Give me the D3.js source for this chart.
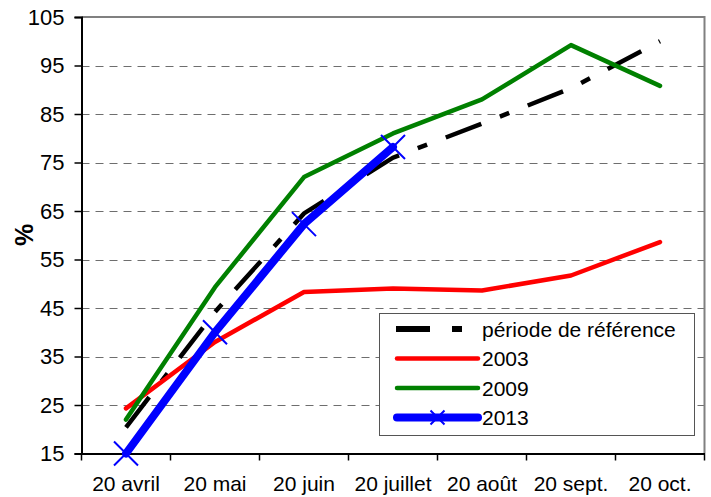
<!DOCTYPE html>
<html>
<head>
<meta charset="utf-8">
<script src="https://cdn.jsdelivr.net/npm/d3@7"></script>
<style>
  body { margin: 0; background: #fff; }
  text { font-family: "Liberation Sans", Arial, sans-serif; fill: #000; }
</style>
</head>
<body>
<svg id="chart" width="711" height="497"></svg>
<script>
// data
const months = ["20 avril", "20 mai", "20 juin", "20 juillet", "20 août", "20 sept.", "20 oct."];
const yTicks = [15, 25, 35, 45, 55, 65, 75, 85, 95, 105];
const reference = [20.4, 44.2, 64.5, 76, 83, 90.3, 100];
const y2003 = [24.3, 38, 48.3, 49, 48.6, 51.7, 58.6];
const y2009 = [22, 49.3, 72, 81, 88, 99.2, 90.8];
const y2013 = [15, 40, 62.3, 78.2];

const svg = d3.select("#chart");

const plotLeft = 81.5, plotRight = 704.5, plotTop = 17, plotBottom = 453.5;

const x = d3.scaleBand()
    .domain(months)
    .range([plotLeft, plotRight])
    .paddingInner(0)
    .paddingOuter(0);

const y = d3.scaleLinear()
    .domain([15, 105])
    .range([plotBottom, plotTop]);

const cx = i => x(months[i]) + x.bandwidth() / 2;

// gridlines
svg.append("g")
    .selectAll("line")
    .data(yTicks.filter(d => d > 15 && d < 105))
    .enter()
    .append("line")
    .attr("x1", plotLeft)
    .attr("x2", plotRight)
    .attr("y1", d => Math.round(y(d)) + 0.5)
    .attr("y2", d => Math.round(y(d)) + 0.5)
    .attr("stroke", "#6e6e6e")
    .attr("stroke-width", 1)
    .attr("stroke-dasharray", "8 6");

// top and right frame
svg.append("path")
    .attr("d", `M${plotLeft},${plotTop}H${plotRight}V${plotBottom}`)
    .attr("fill", "none")
    .attr("stroke", "#808080")
    .attr("stroke-width", 2);

// y axis
const yAxis = d3.axisLeft(y)
    .tickValues(yTicks)
    .tickSize(7)
    .tickPadding(10);

const gy = svg.append("g")
    .attr("transform", `translate(${plotLeft},0)`)
    .call(yAxis);
gy.select(".domain").attr("stroke", "#000").attr("stroke-width", 2);
gy.selectAll(".tick line").attr("stroke", "#000").attr("stroke-width", 1.5);
gy.selectAll(".tick text")
    .style("font-size", "22px")
    .style("font-family", "Liberation Sans, Arial, sans-serif");

// x axis
const xAxis = d3.axisBottom(x)
    .tickSize(0)
    .tickPadding(23);

const gx = svg.append("g")
    .attr("transform", `translate(0,${plotBottom})`)
    .call(xAxis);
gx.select(".domain").attr("stroke", "#000").attr("stroke-width", 2);
gx.selectAll(".tick text")
    .style("font-size", "21px")
    .style("font-family", "Liberation Sans, Arial, sans-serif");

// tick marks between categories
svg.append("g")
    .selectAll("line")
    .data(months.concat(["end"]))
    .enter()
    .append("line")
    .attr("x1", (d, i) => plotLeft + i * x.bandwidth())
    .attr("x2", (d, i) => plotLeft + i * x.bandwidth())
    .attr("y1", plotBottom)
    .attr("y2", plotBottom + 7)
    .attr("stroke", "#000")
    .attr("stroke-width", 1.5);

// axis title
svg.append("text")
    .attr("transform", "translate(33,235) rotate(-90)")
    .attr("text-anchor", "middle")
    .style("font-size", "25px")
    .style("font-weight", "bold")
    .text("%");

// lines
const line = d3.line()
    .x((d, i) => cx(i))
    .y(d => y(d));

svg.append("path")
    .datum(reference)
    .attr("d", line)
    .attr("fill", "none")
    .attr("stroke", "#000")
    .attr("stroke-width", 4.5)
    .attr("stroke-dasharray", "38 20 10 20");

svg.append("path")
    .datum(y2003)
    .attr("d", line)
    .attr("fill", "none")
    .attr("stroke", "#ff0000")
    .attr("stroke-width", 4.5)
    .attr("stroke-linejoin", "round")
    .attr("stroke-linecap", "round");

svg.append("path")
    .datum(y2009)
    .attr("d", line)
    .attr("fill", "none")
    .attr("stroke", "#008000")
    .attr("stroke-width", 4.5)
    .attr("stroke-linejoin", "round")
    .attr("stroke-linecap", "round");

svg.append("path")
    .datum(y2013)
    .attr("d", line)
    .attr("fill", "none")
    .attr("stroke", "#0000ff")
    .attr("stroke-width", 8)
    .attr("stroke-linejoin", "round")
    .attr("stroke-linecap", "round");

const cross = (px, py, s) => `M${px - s},${py - s}L${px + s},${py + s}M${px - s},${py + s}L${px + s},${py - s}`;

svg.append("g")
    .selectAll("path")
    .data(y2013)
    .enter()
    .append("path")
    .attr("d", (d, i) => cross(cx(i), y(d), 12))
    .attr("stroke", "#0000ff")
    .attr("stroke-width", 2);

// legend
const legendX = 379, legendY = 313;
const legend = svg.append("g");
legend.append("rect")
    .attr("x", legendX + 0.5)
    .attr("y", legendY + 0.5)
    .attr("width", 315)
    .attr("height", 122)
    .attr("fill", "#fff")
    .attr("stroke", "#555")
    .attr("stroke-width", 1);

const legendNames = ["période de référence", "2003", "2009", "2013"];
const legendColors = ["#000", "#ff0000", "#008000", "#0000ff"];
const legendWidths = [4.5, 4.5, 4.5, 8];
const rowY = i => legendY + 16 + i * 29.5;

legendNames.forEach((name, i) => {
    const ly = rowY(i);
    if (i === 0) {
        legend.append("line")
            .attr("x1", 396).attr("x2", 430)
            .attr("y1", ly).attr("y2", ly)
            .attr("stroke", "#000").attr("stroke-width", 6);
        legend.append("line")
            .attr("x1", 452).attr("x2", 462)
            .attr("y1", ly).attr("y2", ly)
            .attr("stroke", "#000").attr("stroke-width", 6);
    } else {
        legend.append("line")
            .attr("x1", 397).attr("x2", 478)
            .attr("y1", ly).attr("y2", ly)
            .attr("stroke", legendColors[i])
            .attr("stroke-width", legendWidths[i])
            .attr("stroke-linecap", "round");
    }
    if (i === 3) {
        legend.append("path")
            .attr("d", cross(437.5, ly, 7))
            .attr("stroke", "#0000ff")
            .attr("stroke-width", 2);
    }
    legend.append("text")
        .attr("x", 482)
        .attr("y", ly)
        .attr("dy", "0.36em")
        .style("font-size", "21px")
        .text(name);
});
</script>
</body>
</html>
